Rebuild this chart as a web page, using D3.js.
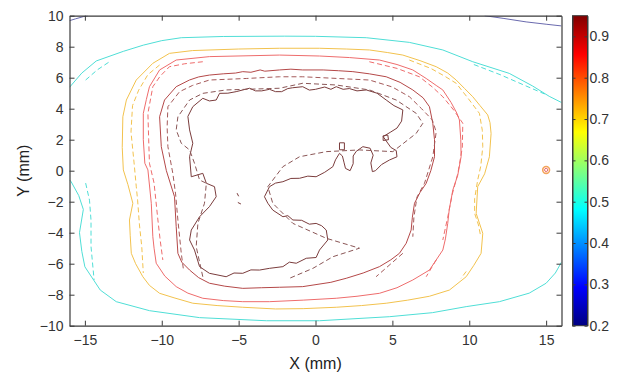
<!DOCTYPE html>
<html>
<head>
<meta charset="utf-8">
<script src="https://cdn.jsdelivr.net/npm/d3@7"></script>
<style>
  body { margin: 0; background: #fff; }
  svg { display: block; font-family: "Liberation Sans", Arial, sans-serif; }
  .axis path, .axis line { stroke: #3a3a3a; }
  .axis text { fill: #333; font-size: 14px; font-family: "Liberation Sans", Arial, sans-serif; }
</style>
</head>
<body>
<svg width="622" height="377"></svg>
<script>
// tick labels
var xTicks = [-15, -10, -5, 0, 5, 10, 15];
var yTicks = [-10, -8, -6, -4, -2, 0, 2, 4, 6, 8, 10];
var cbarTicks = [0.2, 0.3, 0.4, 0.5, 0.6, 0.7, 0.8, 0.9];
var cbarRange = [0.2, 0.95];

// contour lines, [x mm, y mm]
var navySolid = [
  [[-16, 9.68], [-15.6, 9.8], [-15.1, 9.94], [-14.8, 10]],
  [[11.0, 10], [12.2, 9.83], [13.7, 9.6], [15.0, 9.45], [16, 9.34]]
];

var cyanSolid = [
  [[-16, 5.38], [-15.2, 6.3], [-14.26, 7.08], [-12.5, 7.7], [-11.2, 8.1], [-10, 8.39], [-8.73, 8.58], [-6, 8.66],
   [-2, 8.68], [0, 8.67], [3.3, 8.58], [6.1, 8.28], [8.28, 7.79], [10.23, 7.03], [12.6, 6.28], [14.13, 5.46],
   [15.2, 4.8], [16, 4.4]],
  [[-16, -0.6], [-15.9, -0.7], [-15.4, -1.6], [-15.1, -2.5], [-15.35, -4.0], [-15.2, -5.2], [-15.0, -6.2], [-14.0, -7.7],
   [-12.96, -8.45], [-10.8, -9.03], [-7.54, -9.48], [-3.2, -9.68], [0.26, -9.68], [4.8, -9.42], [7.6, -9.16],
   [9.8, -8.77], [11.96, -8.45], [13.9, -7.9], [15.0, -7.26], [15.6, -6.6], [16, -5.9]]
];
var cyanDashed = [
  [[-14.95, 5.85], [-14.2, 6.5], [-13.4, 7.03]],
  [[10.3, 6.85], [12.0, 6.2], [13.5, 5.55], [14.9, 4.95]],
  [[-14.95, -0.8], [-14.7, -1.9], [-14.6, -3.2], [-14.6, -4.9], [-14.4, -7.05]]
];

var yellowSolid = [
  [[-10.58, 6.93], [-9.5, 7.57], [-8.0, 7.75], [-5.0, 7.85], [-2.34, 7.9], [0.26, 7.9], [2.0, 7.85], [3.51, 7.79],
   [4.7, 7.62], [5.68, 7.46], [6.8, 7.1], [7.85, 6.71], [8.6, 6.3], [9.15, 5.85], [9.7, 5.3], [10.23, 4.77],
   [10.7, 4.2], [11.2, 3.6], [11.35, 3.1], [11.42, 2.4], [11.31, 0.9], [11.0, -0.2], [10.55, -1.03], [10.45, -2.75],
   [10.7, -3.5], [10.88, -4.04], [10.77, -5.33], [10.3, -6.1], [9.8, -6.84], [8.71, -7.7], [7.41, -8.1],
   [6.0, -8.35], [4.6, -8.55], [3.0, -8.7], [1.35, -8.81], [-0.8, -8.9], [-2.6, -8.92],
   [-4.73, -8.81], [-6.4, -8.7], [-7.98, -8.55], [-9.2, -8.2], [-10.14, -7.91], [-10.8, -7.4], [-11.23, -6.84],
   [-11.7, -6.0], [-11.98, -5.33], [-12.05, -4.2], [-12.1, -3.18], [-11.88, -2.1], [-12.2, -0.9], [-12.5, 0.05],
   [-12.57, 1.5], [-12.53, 3.48], [-12.3, 4.56], [-11.66, 5.85], [-10.58, 6.93]]
];
var yellowDashed = [
  [[-10.14, 6.82], [-10.9, 6.2], [-11.5, 5.2], [-11.9, 4.2], [-12.0, 2.5], [-11.8, 0.5], [-11.66, -1.0],
   [-11.57, -1.9], [-11.45, -3.5], [-11.3, -4.9], [-11.2, -6.6]],
  [[6.1, 7.14], [7.5, 6.6], [8.4, 6.1], [9.15, 5.64], [9.9, 4.7], [10.66, 3.7], [10.85, 2.6], [10.88, 1.55],
   [10.75, 0.3], [10.55, -0.6], [10.35, -1.8], [10.35, -2.75], [10.6, -3.5], [10.75, -4.26]],
  [[9.8, -6.5], [9.47, -6.94]]
];

var redSolid = [
  [[-10.14, 6.5], [-9.06, 7.14], [-6.9, 7.36], [-2.34, 7.46], [0.26, 7.4], [2.2, 7.3], [4.16, 7.14], [5.3, 6.85],
   [6.33, 6.5], [7.2, 5.95], [7.85, 5.5], [8.28, 5.21], [8.82, 4.4], [9.2, 3.7], [9.36, 3.27], [9.45, 2.0],
   [9.47, 0.9], [9.25, -0.3], [8.93, -1.25], [8.7, -2.5], [8.6, -3.4], [8.45, -4.4], [8.28, -5.12],
   [7.41, -6.41], [6.33, -7.05], [5.3, -7.55], [4.16, -7.91], [2.7, -8.1], [1.35, -8.23],
   [-0.8, -8.35], [-3, -8.45], [-4.73, -8.45], [-6.0, -8.38], [-7.33, -8.23], [-8.3, -7.9], [-9.06, -7.48],
   [-9.8, -6.8], [-10.36, -5.97], [-10.5, -5.0], [-10.58, -4.26], [-10.68, -2.1], [-10.9, 0.05], [-11.1, 0.48],
   [-11.2, 2.0], [-11.2, 3.7], [-11.0, 4.6], [-10.8, 5.42], [-10.14, 6.5]]
];
var redDashed = [
  [[-7.33, 7.03], [-8.5, 6.9], [-9.5, 6.71], [-10.1, 6.1], [-10.58, 5.42], [-10.9, 3.7], [-10.85, 2.0],
   [-10.8, 0.48], [-10.5, -0.8], [-10.25, -3.18], [-10.1, -4.5], [-9.93, -5.76]],
  [[3.5, 7.03], [5.3, 6.6], [6.76, 6.06], [7.6, 5.4], [8.28, 4.77], [9.0, 3.9], [9.58, 3.06], [9.55, 1.5],
   [9.26, -0.17], [8.9, -1.5], [8.6, -3.0], [8.28, -4.47]],
  [[7.85, -5.76], [7.2, -6.84]]
];

var darkRedSolid = [
  [[-9.06, 5.42], [-8.2, 5.85], [-7.6, 6.05], [-6.9, 6.17], [-6.0, 6.25], [-5.2, 6.3], [-4.73, 6.39], [-4.2, 6.35],
   [-3.6, 6.5], [-3.3, 6.42], [-2.34, 6.5], [-1.6, 6.55], [-0.83, 6.5], [0.5, 6.5], [1.5, 6.45], [2.43, 6.39],
   [3.5, 6.25], [4.6, 6.06], [5.5, 5.7], [6.33, 5.21], [7.0, 4.7], [7.41, 4.13], [7.63, 3.06], [7.74, 2.0],
   [7.74, 0.9], [7.5, 0.0], [7.2, -0.81], [6.8, -1.4], [6.44, -2.1], [6.3, -3.0], [6.22, -3.83],
   [5.9, -4.68], [5.46, -5.33], [4.9, -5.75], [4.16, -6.19], [3.1, -6.6], [2.0, -6.94], [1.0, -7.2], [-0.83, -7.48],
   [-2.34, -7.52], [-3.5, -7.55], [-4.73, -7.59], [-5.9, -7.45], [-6.9, -7.26], [-7.6, -6.9], [-8.19, -6.41],
   [-8.7, -5.9], [-8.95, -5.33], [-9.06, -3.61], [-9.17, -1.68], [-9.7, 0.0], [-10.03, 1.55], [-10.14, 3.48],
   [-9.82, 4.56], [-9.06, 5.42]]
];
var darkRedDashed = [
  [[-8.6, -6.3], [-8.73, -5.33], [-8.95, -3.18], [-9.1, -1.5], [-9.28, -0.17], [-9.6, 1.55], [-9.65, 2.8],
   [-9.6, 4.13], [-8.84, 5.1], [-8.0, 5.5], [-6.9, 5.85], [-4.5, 5.95], [-2.34, 6.06], [-0.83, 6.06], [3.51, 5.85],
   [5.0, 5.4], [6.11, 4.77], [6.9, 4.0], [7.6, 3.27], [7.85, 2.5], [7.63, 0.9], [7.09, -0.81], [6.6, -1.7],
   [6.4, -3.0], [6.33, -4.26]],
  [[5.68, -5.33], [3.94, -6.84]]
];

var innerSolid = [
  [[-8.3, 3.5], [-7.98, 4.13], [-7.33, 4.67], [-6.9, 4.5], [-6.46, 4.56], [-6.24, 4.99], [-5.7, 5.0], [-5.16, 5.1],
   [-4.29, 5.32], [-3.9, 5.15], [-3.5, 5.15], [-2.99, 5.25], [-2.6, 5.1], [-2.2, 5.1], [-1.8, 5.3], [-1.5, 5.35],
   [-0.83, 5.42], [-0.4, 5.2], [0, 5.25], [0.6, 5.4], [1.0, 5.25], [1.35, 5.42], [1.8, 5.25], [2.2, 5.3],
   [2.7, 5.15], [3.3, 5.21], [4.0, 5.0], [4.6, 4.56], [5.1, 4.2], [5.68, 3.92], [5.6, 3.2], [5.3, 2.75],
   [4.9, 2.5], [4.4, 2.2], [4.9, 1.5], [5.25, 1.3], [5.3, 0.9], [4.81, 0.69], [4.3, 0.4], [3.9, 0.0],
   [3.7, -0.06], [3.6, 0.5], [3.75, 1.0], [3.55, 1.45], [3.08, 1.55], [2.65, 1.25], [2.45, 0.95], [2.45, 0.45],
   [2.25, 0.0], [1.95, 0.15], [1.85, 0.55], [1.75, 0.95], [1.56, 1.12], [1.3, 0.7], [1.13, 0.26], [0.6, -0.1],
   [0.04, -0.39], [-0.5, -0.35], [-1.04, -0.49], [-1.6, -0.5], [-2.12, -0.71], [-2.6, -0.8], [-2.99, -1.03],
   [-3.32, -1.68], [-3.1, -2.1], [-2.78, -2.54], [-2.12, -2.97], [-1.8, -2.9], [-1.47, -3.18], [-0.9, -3.2],
   [-0.4, -3.45], [0.04, -3.4], [0.4, -3.55], [0.7, -3.83], [0.8, -4.47], [0.26, -5.12], [0.04, -5.6],
   [-0.6, -5.65], [-1.25, -5.97], [-1.7, -5.9], [-2.12, -6.19], [-3, -6.3], [-3.64, -6.41], [-4.2, -6.4],
   [-4.73, -6.62], [-5.3, -6.6], [-5.81, -6.84], [-6.9, -6.62], [-7.54, -6.19], [-7.87, -5.12], [-8.19, -4.47],
   [-8.08, -3.83], [-7.54, -2.97], [-6.9, -2.32], [-6.46, -1.68], [-6.57, -1.03], [-7.1, -0.81], [-7.33, -0.17],
   [-8.08, -0.39], [-8.19, 0.9], [-7.98, 1.77], [-8.19, 2.63], [-8.3, 3.5]],
  [[1.56, 1.35], [1.88, 1.35], [1.88, 1.8], [1.56, 1.8], [1.56, 1.35]],
  [[4.4, 1.95], [4.75, 2.0], [4.7, 2.3], [4.4, 2.25], [4.4, 1.95]],
  [[-5.1, -1.45], [-5.0, -1.65]],
  [[-5.05, -2.05], [-4.85, -2.15]]
];
var innerDashed = [
  [[-7.33, -6.84], [-7.76, -4.9], [-7.65, -3.4], [-7.22, -2.1], [-7.1, -0.81], [-7.54, -0.6], [-7.87, 0.48],
   [-8.19, 1.34], [-8.73, 1.77], [-9.06, 2.63], [-8.95, 3.48], [-8.19, 4.56], [-7.33, 4.99], [-5.81, 5.21],
   [-2.34, 5.32], [-0.83, 5.64], [1.35, 5.53], [3.51, 5.21], [5.25, 4.56], [6.55, 3.7], [6.98, 3.06],
   [6.55, 2.41], [5.03, 1.23], [2.86, 1.34], [0.7, 1.23], [-1.04, 0.9], [-2.12, 0.26], [-3.1, -1.03],
   [-2.78, -2.1], [-1.47, -3.4], [0.7, -4.36], [2.86, -5.0], [1.13, -5.55], [-0.17, -6.3], [-1.69, -6.94]]
];

// small peak at the right
var peakPoints = [[15, 0.05]];

var series = [
  { lines: navySolid, color: "#6a6aae", dash: null },
  { lines: cyanSolid, color: "#4fded6", dash: null },
  { lines: cyanDashed, color: "#4fded6", dash: "5,3" },
  { lines: yellowSolid, color: "#f2c24e", dash: null },
  { lines: yellowDashed, color: "#f2c24e", dash: "5,3" },
  { lines: redSolid, color: "#ee6c6c", dash: null },
  { lines: redDashed, color: "#ee6c6c", dash: "5,3" },
  { lines: darkRedSolid, color: "#b44848", dash: null },
  { lines: darkRedDashed, color: "#a45a5a", dash: "5,3" },
  { lines: innerSolid, color: "#7a3c3c", dash: null },
  { lines: innerDashed, color: "#8a5656", dash: "5,3" }
];

var svg = d3.select("svg");
var plotL = 69.5, plotR = 561.5, plotT = 15.7, plotB = 325.7;

var x = d3.scaleLinear().domain([-16, 16]).range([plotL, plotR]);
var y = d3.scaleLinear().domain([-10, 10]).range([plotB, plotT]);

svg.append("clipPath").attr("id", "plotclip")
  .append("rect")
  .attr("x", plotL).attr("y", plotT)
  .attr("width", plotR - plotL).attr("height", plotB - plotT);

var g = svg.append("g").attr("clip-path", "url(#plotclip)");

var line = d3.line()
  .x(function(d) { return x(d[0]); })
  .y(function(d) { return y(d[1]); });

series.forEach(function(s) {
  g.selectAll(null)
    .data(s.lines)
    .enter().append("path")
    .attr("d", line)
    .attr("fill", "none")
    .attr("stroke", s.color)
    .attr("stroke-width", 1)
    .attr("stroke-linejoin", "round")
    .attr("stroke-dasharray", s.dash);
});

g.selectAll(".peak-outer")
  .data(peakPoints)
  .enter().append("circle")
  .attr("class", "peak-outer")
  .attr("cx", function(d) { return x(d[0]); })
  .attr("cy", function(d) { return y(d[1]); })
  .attr("r", 3.4)
  .attr("fill", "#fff")
  .attr("stroke", "#f4a45c")
  .attr("stroke-width", 1.6);

g.selectAll(".peak-inner")
  .data(peakPoints)
  .enter().append("circle")
  .attr("class", "peak-inner")
  .attr("cx", function(d) { return x(d[0]); })
  .attr("cy", function(d) { return y(d[1]); })
  .attr("r", 1.6)
  .attr("fill", "#fff")
  .attr("stroke", "#e86a6a")
  .attr("stroke-width", 1);

// axes, MATLAB style box with inward ticks
svg.append("g")
  .attr("class", "axis")
  .attr("transform", "translate(0," + plotB + ")")
  .call(d3.axisBottom(x).tickValues(xTicks).tickSizeInner(-5).tickSizeOuter(0).tickPadding(9));

svg.append("g")
  .attr("class", "axis")
  .attr("transform", "translate(" + plotL + ",0)")
  .call(d3.axisLeft(y).tickValues(yTicks).tickSizeInner(-5).tickSizeOuter(0).tickPadding(6));

svg.append("g")
  .attr("class", "axis")
  .attr("transform", "translate(0," + plotT + ")")
  .call(d3.axisTop(x).tickValues(xTicks).tickSizeInner(-5).tickSizeOuter(0).tickFormat(""));

svg.append("g")
  .attr("class", "axis")
  .attr("transform", "translate(" + plotR + ",0)")
  .call(d3.axisRight(y).tickValues(yTicks).tickSizeInner(-5).tickSizeOuter(0).tickFormat(""));

svg.selectAll(".axis .domain").attr("stroke-width", 1.2);

svg.append("text")
  .attr("x", (plotL + plotR) / 2)
  .attr("y", 369)
  .attr("text-anchor", "middle")
  .attr("font-size", "16px")
  .attr("fill", "#222")
  .text("X (mm)");

svg.append("text")
  .attr("transform", "translate(29," + ((plotT + plotB) / 2) + ") rotate(-90)")
  .attr("text-anchor", "middle")
  .attr("font-size", "16px")
  .attr("fill", "#222")
  .text("Y (mm)");

// colorbar (jet)
var cbLeft = 572.5, cbRight = 587.5;
var c = d3.scaleLinear().domain(cbarRange).range([plotB, plotT]);

var jetStops = [
  [0, "#000080"], [0.125, "#0000ff"], [0.375, "#00ffff"],
  [0.625, "#ffff00"], [0.875, "#ff0000"], [1, "#800000"]
];
var grad = svg.append("defs").append("linearGradient")
  .attr("id", "jet")
  .attr("x1", 0).attr("y1", 1).attr("x2", 0).attr("y2", 0);
grad.selectAll("stop")
  .data(jetStops)
  .enter().append("stop")
  .attr("offset", function(d) { return d[0]; })
  .attr("stop-color", function(d) { return d[1]; });

svg.append("rect")
  .attr("x", cbLeft).attr("y", plotT)
  .attr("width", cbRight - cbLeft).attr("height", plotB - plotT)
  .attr("fill", "url(#jet)");

svg.append("g")
  .attr("class", "axis")
  .attr("transform", "translate(" + cbRight + ",0)")
  .call(d3.axisRight(c).tickValues(cbarTicks).tickSizeInner(-3).tickSizeOuter(0).tickPadding(2).tickFormat(d3.format(".1f")));

svg.append("g")
  .attr("class", "axis")
  .attr("transform", "translate(" + cbLeft + ",0)")
  .call(d3.axisLeft(c).tickValues(cbarTicks).tickSizeInner(-3).tickSizeOuter(0).tickFormat(""));

svg.append("rect")
  .attr("x", cbLeft).attr("y", plotT)
  .attr("width", cbRight - cbLeft).attr("height", plotB - plotT)
  .attr("fill", "none")
  .attr("stroke", "#3a3a3a")
  .attr("stroke-width", 1);
</script>
</body>
</html>
